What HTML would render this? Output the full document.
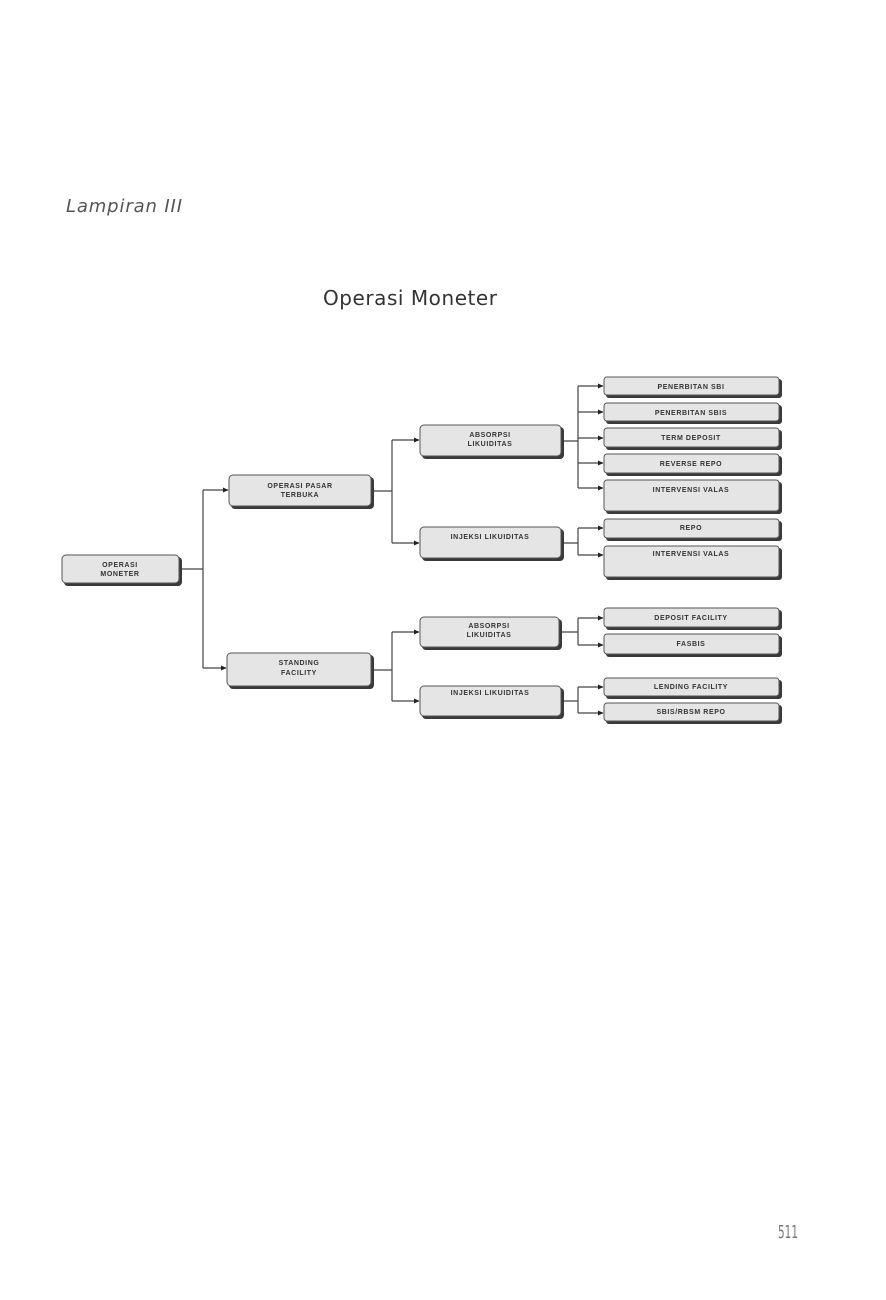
<!DOCTYPE html>
<html><head><meta charset="utf-8"><style>
html,body{margin:0;padding:0;background:#fff;}
body{width:886px;height:1300px;position:relative;overflow:hidden;}
svg{position:absolute;left:0;top:0;}
.b{font-family:"Liberation Sans",sans-serif;font-weight:bold;font-size:7px;letter-spacing:0.6px;fill:#333;text-anchor:middle;}
</style></head><body>
<svg width="886" height="1300" viewBox="0 0 886 1300">
<defs>
<marker id="a" markerWidth="6" markerHeight="6" refX="5" refY="3" orient="auto" markerUnits="userSpaceOnUse"><path d="M0,0.5 L5.5,3 L0,5.5z" fill="#222"/></marker>
</defs>
<text x="66" y="212" font-family="'DejaVu Sans','Liberation Sans',sans-serif" font-style="italic" font-size="18" fill="#555" textLength="116">Lampiran III</text>
<text x="323" y="305" font-family="'DejaVu Sans','Liberation Sans',sans-serif" font-size="20" fill="#333" textLength="174">Operasi Moneter</text>
<text x="778" y="1238" font-family="'DejaVu Sans','Liberation Sans',sans-serif" font-size="18" fill="#777" textLength="20" lengthAdjust="spacingAndGlyphs">511</text>

<g stroke="#444" stroke-width="1.2" fill="none">
<path d="M180 569 H203 M203 490 V668"/>
<path d="M203 490 H228" marker-end="url(#a)"/>
<path d="M203 668 H226" marker-end="url(#a)"/>
<path d="M372 491 H392 M392 440 V543"/>
<path d="M392 440 H419" marker-end="url(#a)"/>
<path d="M392 543 H419" marker-end="url(#a)"/>
<path d="M372 670 H392 M392 632 V701"/>
<path d="M392 632 H419" marker-end="url(#a)"/>
<path d="M392 701 H419" marker-end="url(#a)"/>
<path d="M562 441 H578 M578 386 V488"/>
<path d="M578 386 H603" marker-end="url(#a)"/>
<path d="M578 412 H603" marker-end="url(#a)"/>
<path d="M578 438 H603" marker-end="url(#a)"/>
<path d="M578 463 H603" marker-end="url(#a)"/>
<path d="M578 488 H603" marker-end="url(#a)"/>
<path d="M562 543 H578 M578 528 V555"/>
<path d="M578 528 H603" marker-end="url(#a)"/>
<path d="M578 555 H603" marker-end="url(#a)"/>
<path d="M560 632 H578 M578 618 V645"/>
<path d="M578 618 H603" marker-end="url(#a)"/>
<path d="M578 645 H603" marker-end="url(#a)"/>
<path d="M562 701 H578 M578 687 V713"/>
<path d="M578 687 H603" marker-end="url(#a)"/>
<path d="M578 713 H603" marker-end="url(#a)"/>
</g>

<g fill="#3a3a3a">
<rect x="64" y="557" width="118" height="29" rx="4"/>
<rect x="231" y="477" width="143" height="32" rx="4"/>
<rect x="229" y="655" width="145" height="34" rx="4"/>
<rect x="422" y="427" width="142" height="32" rx="4"/>
<rect x="422" y="529" width="142" height="32" rx="4"/>
<rect x="422" y="619" width="140" height="31" rx="4"/>
<rect x="422" y="688" width="142" height="31" rx="4"/>
<rect x="606" y="379" width="176" height="19" rx="3"/>
<rect x="606" y="405" width="176" height="19" rx="3"/>
<rect x="606" y="430" width="176" height="20" rx="3"/>
<rect x="606" y="456" width="176" height="20" rx="3"/>
<rect x="606" y="482" width="176" height="32" rx="3"/>
<rect x="606" y="521" width="176" height="20" rx="3"/>
<rect x="606" y="548" width="176" height="32" rx="3"/>
<rect x="606" y="610" width="176" height="20" rx="3"/>
<rect x="606" y="636" width="176" height="21" rx="3"/>
<rect x="606" y="680" width="176" height="19" rx="3"/>
<rect x="606" y="705" width="176" height="19" rx="3"/>
</g>
<g fill="#e5e5e5" stroke="#555" stroke-width="1">
<rect x="62" y="555" width="117" height="28" rx="4"/>
<rect x="229" y="475" width="142" height="31" rx="4"/>
<rect x="227" y="653" width="144" height="33" rx="4"/>
<rect x="420" y="425" width="141" height="31" rx="4"/>
<rect x="420" y="527" width="141" height="31" rx="4"/>
<rect x="420" y="617" width="139" height="30" rx="4"/>
<rect x="420" y="686" width="141" height="30" rx="4"/>
<rect x="604" y="377" width="175" height="18" rx="3"/>
<rect x="604" y="403" width="175" height="18" rx="3"/>
<rect x="604" y="428" width="175" height="19" rx="3"/>
<rect x="604" y="454" width="175" height="19" rx="3"/>
<rect x="604" y="480" width="175" height="31" rx="3"/>
<rect x="604" y="519" width="175" height="19" rx="3"/>
<rect x="604" y="546" width="175" height="31" rx="3"/>
<rect x="604" y="608" width="175" height="19" rx="3"/>
<rect x="604" y="634" width="175" height="20" rx="3"/>
<rect x="604" y="678" width="175" height="18" rx="3"/>
<rect x="604" y="703" width="175" height="18" rx="3"/>
</g>

<text class="b" x="120" y="567">OPERASI</text>
<text class="b" x="120" y="576">MONETER</text>
<text class="b" x="300" y="488">OPERASI PASAR</text>
<text class="b" x="300" y="497">TERBUKA</text>
<text class="b" x="299" y="665">STANDING</text>
<text class="b" x="299" y="675">FACILITY</text>
<text class="b" x="490" y="437">ABSORPSI</text>
<text class="b" x="490" y="446">LIKUIDITAS</text>
<text class="b" x="490" y="539">INJEKSI LIKUIDITAS</text>
<text class="b" x="489" y="628">ABSORPSI</text>
<text class="b" x="489" y="637">LIKUIDITAS</text>
<text class="b" x="490" y="695">INJEKSI LIKUIDITAS</text>
<text class="b" x="691" y="389">PENERBITAN SBI</text>
<text class="b" x="691" y="415">PENERBITAN SBIS</text>
<text class="b" x="691" y="440">TERM DEPOSIT</text>
<text class="b" x="691" y="466">REVERSE REPO</text>
<text class="b" x="691" y="492">INTERVENSI VALAS</text>
<text class="b" x="691" y="530">REPO</text>
<text class="b" x="691" y="556">INTERVENSI VALAS</text>
<text class="b" x="691" y="620">DEPOSIT FACILITY</text>
<text class="b" x="691" y="646">FASBIS</text>
<text class="b" x="691" y="689">LENDING FACILITY</text>
<text class="b" x="691" y="714">SBIS/RBSM REPO</text>
</svg>
</body></html>
